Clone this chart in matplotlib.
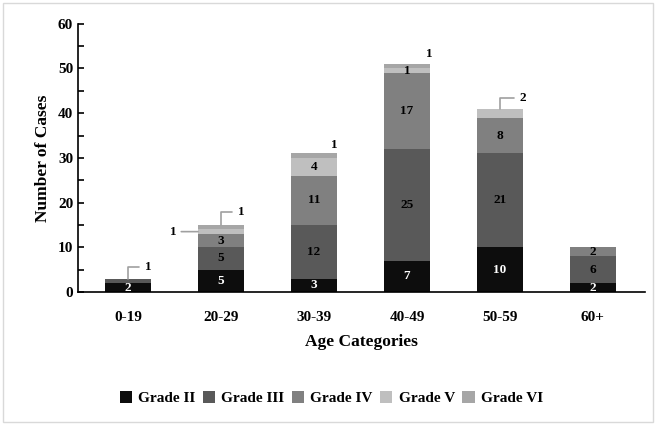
import matplotlib.pyplot as plt
from matplotlib.patches import Rectangle
import numpy as np

# data
categories = ['0-19', '20-29', '30-39', '40-49', '50-59', '60+']
grades = ['Grade II', 'Grade III', 'Grade IV', 'Grade V', 'Grade VI']
grade_ii = [2, 5, 3, 7, 10, 2]
grade_iii = [1, 5, 12, 25, 21, 6]
grade_iv = [0, 3, 11, 17, 8, 2]
grade_v = [0, 1, 4, 1, 2, 0]
grade_vi = [0, 1, 1, 1, 0, 0]
colors = ['#0d0d0d', '#595959', '#808080', '#bfbfbf', '#a6a6a6']

series = [grade_ii, grade_iii, grade_iv, grade_v, grade_vi]

# labels placed outside the bar: (category, series, dx pt, dy pt, leader)
outside = [
    (0, 1, 12, 8, 'angle'),
    (1, 3, -15, 0, 'line'),
    (1, 4, 12, 9, 'angle'),
    (2, 4, 12, 6, None),
    (3, 4, 14, 7, None),
    (4, 3, 14, 8, 'angle'),
]
outside_keys = {(c, s) for c, s, _, _, _ in outside}

plt.rcParams['font.family'] = ['Liberation Serif', 'DejaVu Serif']
plt.rcParams['font.weight'] = 'bold'

fig = plt.figure(figsize=(6.56, 4.25), dpi=100)
ax = fig.add_axes([0.119, 0.313, 0.864, 0.631])

x = np.arange(len(categories))
width = 0.5
bottom = np.zeros(len(categories))
for vals, name, col in zip(series, grades, colors):
    ax.bar(x, vals, width, bottom=bottom, color=col, label=name, zorder=2)
    bottom += np.array(vals)

# segment labels
cum = np.zeros(len(categories))
for s, vals in enumerate(series):
    for i, v in enumerate(vals):
        if v > 0:
            mid = cum[i] + v / 2
            if (i, s) not in outside_keys:
                tc = 'white' if s == 0 else 'black'
                ax.text(x[i], mid, str(v), ha='center', va='center',
                        fontsize=9.5, fontweight='bold', color=tc, zorder=3)
    cum += np.array(vals)

# outside labels with leader lines
for c, s, dx, dy, leader in outside:
    base = sum(series[k][c] for k in range(s))
    v = series[s][c]
    top = base + v
    if leader == 'angle':
        ax.annotate(str(v), xy=(x[c], top), xytext=(dx, dy), textcoords='offset points',
                    ha='left', va='center', fontsize=9.5, fontweight='bold',
                    arrowprops=dict(arrowstyle='-', color='#a0a0a0', lw=1.2,
                                    shrinkA=2, shrinkB=0,
                                    connectionstyle='angle,angleA=0,angleB=90,rad=0'))
    elif leader == 'line':
        ax.annotate(str(v), xy=(x[c] - width / 2, base + v / 2), xytext=(dx, dy),
                    textcoords='offset points', ha='right', va='center',
                    fontsize=9.5, fontweight='bold',
                    arrowprops=dict(arrowstyle='-', color='#a0a0a0', lw=1.2,
                                    shrinkA=1, shrinkB=0))
    else:
        ax.annotate(str(v), xy=(x[c], top), xytext=(dx, dy), textcoords='offset points',
                    ha='left', va='center', fontsize=9.5, fontweight='bold')

# axes
ax.set_ylim(0, 60)
ax.set_xlim(-0.54, 5.56)
ax.set_yticks(np.arange(0, 61, 10))
ax.set_yticks(np.arange(5, 60, 10), minor=True)
ax.set_xticks(x)
ax.set_xticklabels(categories)
ax.tick_params(axis='y', which='both', direction='in', length=4, labelsize=11, width=1.2)
ax.tick_params(axis='x', length=0, labelsize=11, pad=14)
for lab in ax.get_xticklabels() + ax.get_yticklabels():
    lab.set_fontweight('bold')
ax.spines['top'].set_visible(False)
ax.spines['right'].set_visible(False)
ax.spines['left'].set_linewidth(1.2)
ax.spines['bottom'].set_linewidth(1.2)
ax.set_xlabel('Age Categories', fontsize=12.5, fontweight='bold', labelpad=7)
ax.set_ylabel('Number of Cases', fontsize=12.5, fontweight='bold', labelpad=5)

fig.legend(loc='center', bbox_to_anchor=(0.505, 0.063), ncol=5, frameon=False,
           handlelength=0.8, handleheight=0.8, handletextpad=0.4, columnspacing=0.5,
           prop={'weight': 'bold', 'size': 11})

# light frame around the figure
fig.patches.append(Rectangle((0.005, 0.008), 0.99, 0.984, transform=fig.transFigure,
                             fill=False, edgecolor='#d9d9d9', lw=1))

plt.savefig('out.png', dpi=100)
